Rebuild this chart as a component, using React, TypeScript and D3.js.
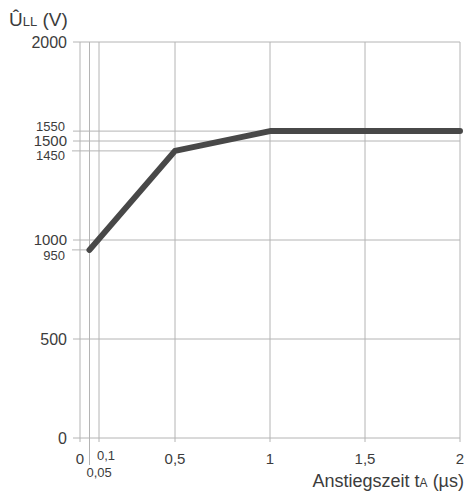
import * as d3 from "d3";
import React, { useRef, useEffect } from "react";

// curve points: rise time (µs) -> peak voltage (V)
const riseTimes = [0.05, 0.5, 1, 2];
const voltages = [950, 1450, 1550, 1550];

const xTicks = [0, 0.05, 0.1, 0.5, 1, 1.5, 2];
const xTickLabels = ["0", "0,05", "0,1", "0,5", "1", "1,5", "2"];
const yMainTicks = [0, 500, 1000, 1500, 2000];
const yMainLabels = ["0", "500", "1000", "1500", "2000"];
const yMarkTicks = [1550, 1450, 950];
const yMarkLabels = ["1550", "1450", "950"];

const W = 471;
const H = 493;
const FONT = "'Liberation Sans', Arial, sans-serif";

function Chart() {
  const ref = useRef<SVGSVGElement>(null);

  useEffect(() => {
    const svg = d3.select(ref.current);
    svg.selectAll("*").remove();

    const x = d3.scaleLinear().domain([0, 2]).range([80, 460]);
    const y = d3.scaleLinear().domain([0, 2000]).range([438, 42]);
    const grid = "#b4b4b4";
    const textCol = "#3c3c3c";

    const g = svg.append("g");

    // vertical grid lines
    g.selectAll(".vgrid")
      .data(xTicks)
      .enter()
      .append("line")
      .attr("x1", (d) => x(d))
      .attr("x2", (d) => x(d))
      .attr("y1", y(2000))
      .attr("y2", (d) => (d === 0.05 ? 465 : y(0) + 4))
      .attr("stroke", grid)
      .attr("stroke-width", 1);

    // horizontal grid lines (full width)
    g.selectAll(".hgrid")
      .data([0, 500, 1000, 1500, 1550, 2000])
      .enter()
      .append("line")
      .attr("x1", 73)
      .attr("x2", x(2))
      .attr("y1", (d) => y(d))
      .attr("y2", (d) => y(d))
      .attr("stroke", grid)
      .attr("stroke-width", 1);

    // partial guide lines to the curve points
    g.selectAll(".pgrid")
      .data([
        [1450, 0.5],
        [950, 0.05],
      ])
      .enter()
      .append("line")
      .attr("x1", 72)
      .attr("x2", (d) => x(d[1]))
      .attr("y1", (d) => y(d[0]))
      .attr("y2", (d) => y(d[0]))
      .attr("stroke", grid)
      .attr("stroke-width", 1);

    // the curve
    const line = d3
      .line<number>()
      .x((d, i) => x(riseTimes[i]))
      .y((d) => y(d));
    g.append("path")
      .datum(voltages)
      .attr("d", line)
      .attr("fill", "none")
      .attr("stroke", "#484848")
      .attr("stroke-width", 6)
      .attr("stroke-linejoin", "round")
      .attr("stroke-linecap", "round");

    // y labels
    g.selectAll(".ylab")
      .data(yMainTicks)
      .enter()
      .append("text")
      .attr("x", 67)
      .attr("y", (d) => y(d))
      .attr("dy", "0.35em")
      .attr("text-anchor", "end")
      .attr("font-size", (d) => (d === 1000 || d === 1500 ? 15 : 16))
      .attr("fill", textCol)
      .text((d, i) => yMainLabels[i]);

    const markOffset: Record<number, number> = { 1550: -5, 1450: 5, 950: 6 };
    g.selectAll(".ymark")
      .data(yMarkTicks)
      .enter()
      .append("text")
      .attr("x", 65)
      .attr("y", (d) => y(d) + markOffset[d])
      .attr("dy", "0.35em")
      .attr("text-anchor", "end")
      .attr("font-size", 13)
      .attr("fill", textCol)
      .text((d, i) => yMarkLabels[i]);

    // x labels
    xTicks.forEach((t, i) => {
      const small = t === 0.05 || t === 0.1;
      g.append("text")
        .attr("x", t === 0.05 ? x(t) - 3 : t === 0.1 ? x(t) - 2 : x(t))
        .attr("y", t === 0.05 ? 472 : t === 0.1 ? 455 : 459)
        .attr("dy", "0.35em")
        .attr("text-anchor", small ? "start" : "middle")
        .attr("font-size", small ? 13 : 15)
        .attr("fill", textCol)
        .text(xTickLabels[i]);
    });

    // axis titles
    const yt = g
      .append("text")
      .attr("x", 9)
      .attr("y", 26)
      .attr("font-size", 19)
      .attr("fill", textCol);
    yt.append("tspan").text("Û");
    yt.append("tspan").attr("font-size", 13).text("LL");
    yt.append("tspan").text(" (V)");

    const xt = g
      .append("text")
      .attr("x", 464)
      .attr("y", 487)
      .attr("text-anchor", "end")
      .attr("font-size", 18)
      .attr("fill", textCol);
    xt.append("tspan").text("Anstiegszeit t");
    xt.append("tspan").attr("font-size", 12).text("A");
    xt.append("tspan").text(" (µs)");
  }, []);

  return (
    <svg
      ref={ref}
      width={W}
      height={H}
      style={{ position: "absolute", left: 0, top: 0, background: "#fff", fontFamily: FONT }}
    ></svg>
  );
}

export default function App() {
  return <Chart />;
}
